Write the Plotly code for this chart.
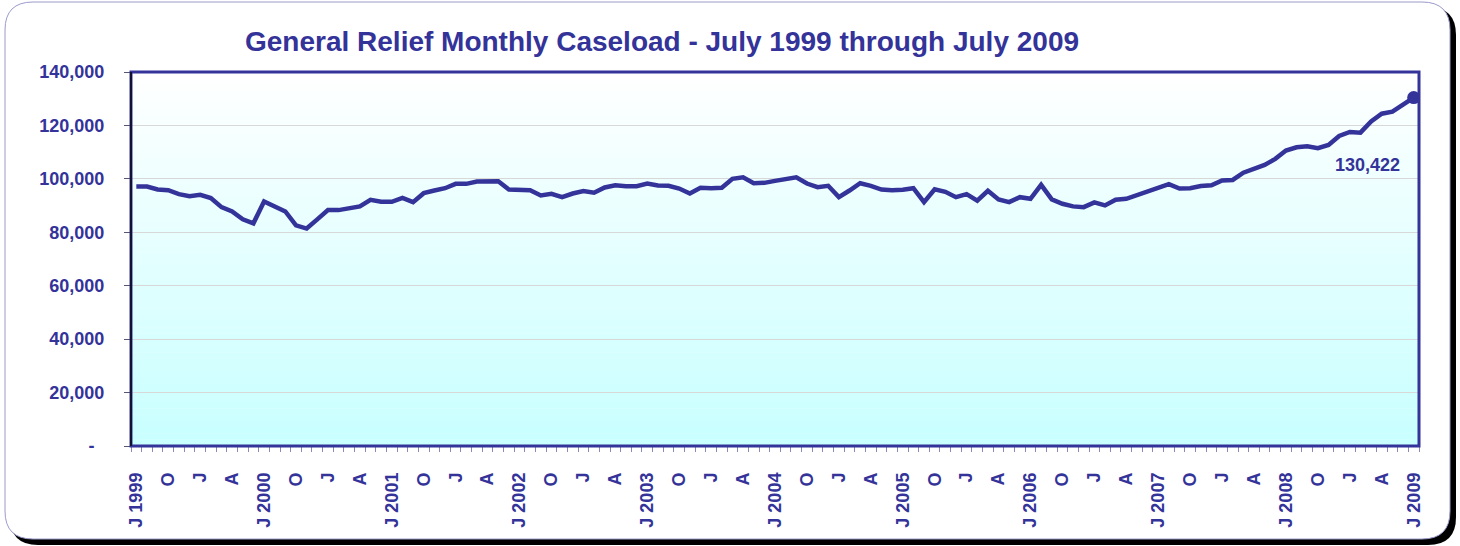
import plotly.graph_objects as go

# ---- data ----
caseload = [
    97100, 97100, 96000, 95750, 94270, 93500, 94000, 92800, 89400, 87800,
    84850, 83350, 91550, 89560, 87800, 82600, 81400, 84850, 88300, 88300,
    88830, 89700, 92180, 91430, 91430, 92900, 91300, 94640, 95640, 96500,
    98140, 98140, 99000, 99110, 99110, 96000, 95750, 95750, 93780, 94400,
    93150, 94520, 95400, 94800, 96760, 97620, 97250, 97250, 98250, 97500,
    97400, 96380, 94520, 96650, 96500, 96650, 100000, 100600, 98360, 98500,
    99250, 100000, 100600, 98250, 96870, 97390, 93150, 95640, 98360, 97390,
    96000, 95750, 95900, 96500, 91300, 96130, 95150, 93150, 94270, 91800,
    95530, 92300, 91300, 93150, 92550, 97770, 92300, 90690, 89700, 89420,
    91170, 90060, 92180, 92550, 93890, 95150, 96870, 98000, 96380, 96500,
    97300, 97600, 99400, 99600, 102300, 103600, 105230, 107480, 110580, 111820,
    112200, 111450, 112700, 116070, 117570, 117300, 121530, 124400, 125160, 127780,
    130422,
]
start_year = 1999
month_letters = {0: "J", 3: "O", 6: "J", 9: "A"}  # July, Oct, Jan, Apr
tick_idx = list(range(0, len(caseload), 3))
tick_text = [
    (f"J {start_year + i // 12}" if i % 12 == 0 else month_letters[i % 12])
    for i in tick_idx
]
y_ticks = [0, 20000, 40000, 60000, 80000, 100000, 120000, 140000]
y_text = ["-\u00a0\u00a0", "20,000", "40,000", "60,000", "80,000",
          "100,000", "120,000", "140,000"]
title_text = "General Relief Monthly Caseload - July 1999 through July 2009"
end_label = "130,422"

# ---- layout geometry (pixels) ----
W, H = 1460, 546
L, R, T, B = 131, 41, 72, 100
PW, PH = W - L - R, H - T - B
BLUE = "#333399"
FONT = "Liberation Sans, Arial, sans-serif"


def px(x):
    return (x - L) / PW


def py(y):
    return (H - B - y) / PH


def rounded(x0, y0, x1, y1, r):
    rx, ry = r / PW, r / PH
    X0, X1 = px(x0), px(x1)
    Y0, Y1 = py(y0), py(y1)  # Y0 top, Y1 bottom
    return (f"M {X0+rx},{Y0} L {X1-rx},{Y0} Q {X1},{Y0} {X1},{Y0-ry} "
            f"L {X1},{Y1+ry} Q {X1},{Y1} {X1-rx},{Y1} "
            f"L {X0+rx},{Y1} Q {X0},{Y1} {X0},{Y1+ry} "
            f"L {X0},{Y0-ry} Q {X0},{Y0} {X0+rx},{Y0} Z")


n = len(caseload)
x = list(range(n))

fig = go.Figure()
fig.add_trace(go.Scatter(
    x=x, y=caseload, mode="lines",
    line=dict(color=BLUE, width=4.5),
    hoverinfo="skip", showlegend=False,
))
fig.add_trace(go.Scatter(
    x=[x[-1]], y=[caseload[-1]], mode="markers",
    marker=dict(size=13, color=BLUE, opacity=1, line=dict(width=0)),
    hoverinfo="skip", showlegend=False,
))

shapes = []
# outer shadow + box
shapes.append(dict(type="path", xref="paper", yref="paper", layer="below",
                   path=rounded(10, 7, 1456, 545, 28),
                   fillcolor="black", line=dict(width=0)))
shapes.append(dict(type="path", xref="paper", yref="paper", layer="below",
                   path=rounded(5, 2, 1450, 539, 28),
                   fillcolor="white", line=dict(color="#9a9acc", width=1)))
# gradient plot background
strips = 60
for k in range(strips):
    f = k / (strips - 1)
    r_ = int(round(255 - (255 - 200) * f))
    shapes.append(dict(type="rect", xref="x domain", yref="y domain",
                       layer="below", x0=0, x1=1,
                       y0=1 - (k + 1) / strips, y1=1 - k / strips + 0.001,
                       fillcolor=f"rgb({r_},255,255)", line=dict(width=0)))
# frame
shapes.append(dict(type="rect", xref="x domain", yref="y domain", layer="above",
                   x0=0, x1=1, y0=0, y1=1, line=dict(color=BLUE, width=3),
                   fillcolor="rgba(0,0,0,0)"))
shapes.append(dict(type="line", xref="x domain", yref="y domain", layer="above",
                   x0=0, x1=0, y0=0, y1=1, line=dict(color="#111133", width=2)))

fig.update_layout(
    width=W, height=H,
    margin=dict(l=L, r=R, t=T, b=B),
    paper_bgcolor="white", plot_bgcolor="rgba(0,0,0,0)",
    shapes=shapes,
    annotations=[
        dict(text=title_text, xref="paper", yref="paper",
             x=px(662), y=py(42), xanchor="center", yanchor="middle",
             showarrow=False,
             font=dict(family=FONT, size=28, color=BLUE, weight="bold")),
        dict(text=end_label, x=115.7, y=105300, xref="x", yref="y",
             showarrow=False, xanchor="center", yanchor="middle",
             font=dict(family=FONT, size=18, color=BLUE, weight="bold")),
    ],
    xaxis=dict(
        range=[-0.5, n - 0.5], tickmode="array", tickvals=tick_idx,
        ticktext=tick_text, tickangle=-90, ticks="",
        showgrid=False, zeroline=False, showline=False,
        tickfont=dict(family=FONT, size=18, color=BLUE, weight="bold"),
        ticklabelstandoff=22,
        minor=dict(tickmode="linear", tick0=-0.5, dtick=1, ticks="outside",
                   ticklen=5, tickcolor="#8888bb", tickwidth=1, showgrid=False),
    ),
    yaxis=dict(
        range=[0, 140000], tickmode="array", tickvals=y_ticks, ticktext=y_text,
        ticks="outside", ticklen=6, tickcolor="#555577",
        showgrid=True, gridcolor="#d8d8d8", gridwidth=1,
        zeroline=False, showline=False,
        tickfont=dict(family=FONT, size=18, color=BLUE, weight="bold"),
        ticklabelstandoff=16,
    ),
)

fig.write_html("out.html",
               config={"displayModeBar": False},
               post_script="document.body.style.margin='0';"
                           "document.body.style.overflow='hidden';")
